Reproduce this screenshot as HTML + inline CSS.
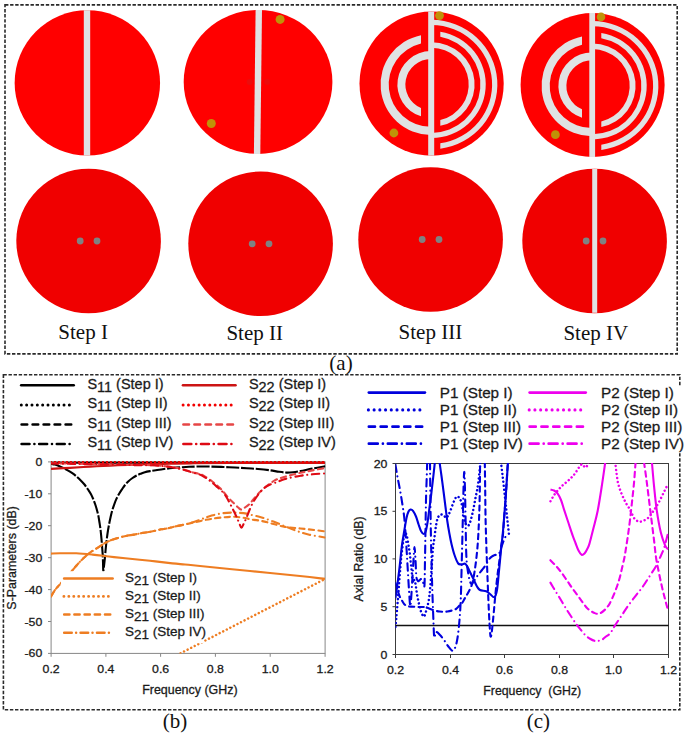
<!DOCTYPE html>
<html><head><meta charset="utf-8"><title>Figure</title>
<style>html,body{margin:0;padding:0;background:#fff;width:685px;height:736px;overflow:hidden}svg{display:block}text[font-family="Liberation Sans"]{stroke:#1a1a1a;stroke-width:0.28px}</style>
</head><body>
<svg width="685" height="736" viewBox="0 0 685 736">
<rect width="685" height="736" fill="#fff"/>
<defs><clipPath id="cb"><rect x="51" y="455" width="274.5" height="198.5"/></clipPath><clipPath id="cc"><rect x="395.5" y="463" width="273" height="191.5"/></clipPath></defs>
<circle cx="87.35" cy="82.9" r="72.7" fill="#ff0000"/>
<rect x="83.8" y="10.2" width="6.4" height="145.4" fill="#e0e2e3"/>
<ellipse cx="258.05" cy="81.9" rx="74.35" ry="72" fill="#ff0000"/>
<polygon points="255.6,9.9 262,9.9 260.3,153.9 253.9,153.9" fill="#e0e2e3"/>
<circle cx="249.6" cy="82" r="3" fill="#ec0c0c"/>
<circle cx="267.1" cy="82" r="3" fill="#ec0c0c"/>
<circle cx="280.1" cy="19.4" r="4.5" fill="#c09208"/>
<circle cx="211.3" cy="123.5" r="4.5" fill="#c09208"/>
<circle cx="431.6" cy="83.6" r="72.1" fill="#ff0000"/>
<path d="M431.7,19.7 A66.2,64.8 0 0 1 440.3,148.68 L440.3,143.33 A60.9,59.5 0 0 0 431.7,25 Z" fill="#e0e2e3"/>
<path d="M440.3,31.65 A54.5,53.6 0 0 1 431.7,138.1 L431.7,133 A49.2,48.5 0 0 0 440.3,36.84 Z" fill="#e0e2e3"/>
<path d="M431.7,42.3 A43.4,42.2 0 0 1 440.3,125.76 L440.3,120.1 A37.5,36.7 0 0 0 431.7,47.8 Z" fill="#e0e2e3"/>
<path d="M421,35.13 A50.6,50.4 0 0 0 430.7,134.9 L430.7,126.8 A42.5,42.3 0 0 1 421,43.44 Z" fill="#e0e2e3"/>
<path d="M430.7,51.1 A33.8,33.4 0 0 0 421,116.34 L421,107.92 A25.8,25.5 0 0 1 430.7,59 Z" fill="#e0e2e3"/>
<rect x="428.2" y="11.5" width="6" height="144.2" fill="#e0e2e3"/>
<circle cx="439.5" cy="15.6" r="4.4" fill="#c09208"/>
<circle cx="393.9" cy="133" r="4.4" fill="#c09208"/>
<circle cx="592.6" cy="85" r="72" fill="#ff0000"/>
<path d="M592.7,21 A66.2,64.8 0 0 1 601.3,149.98 L601.3,144.63 A60.9,59.5 0 0 0 592.7,26.3 Z" fill="#e0e2e3"/>
<path d="M601.3,32.95 A54.5,53.6 0 0 1 592.7,139.4 L592.7,134.3 A49.2,48.5 0 0 0 601.3,38.14 Z" fill="#e0e2e3"/>
<path d="M592.7,43.6 A43.4,42.2 0 0 1 601.3,127.06 L601.3,121.4 A37.5,36.7 0 0 0 592.7,49.1 Z" fill="#e0e2e3"/>
<path d="M582,36.43 A50.6,50.4 0 0 0 591.7,136.2 L591.7,128.1 A42.5,42.3 0 0 1 582,44.74 Z" fill="#e0e2e3"/>
<path d="M591.7,52.4 A33.8,33.4 0 0 0 582,117.64 L582,109.22 A25.8,25.5 0 0 1 591.7,60.3 Z" fill="#e0e2e3"/>
<rect x="589.3" y="13" width="5.8" height="144" fill="#e0e2e3"/>
<circle cx="601" cy="16.9" r="4.3" fill="#c09208"/>
<circle cx="555.4" cy="134.7" r="4.4" fill="#c09208"/>
<circle cx="88.6" cy="241" r="72.3" fill="#f00000"/>
<circle cx="260.6" cy="243.8" r="72.3" fill="#f00000"/>
<circle cx="430.6" cy="239.5" r="72.3" fill="#f00000"/>
<circle cx="594.6" cy="241" r="72.3" fill="#f00000"/>
<rect x="592.2" y="169" width="5" height="143.8" fill="#e0e2e3"/>
<circle cx="80.2" cy="241" r="3.4" fill="#7f8282"/>
<circle cx="97" cy="241" r="3.4" fill="#7f8282"/>
<circle cx="252.2" cy="243.8" r="3.4" fill="#7f8282"/>
<circle cx="269" cy="243.8" r="3.4" fill="#7f8282"/>
<circle cx="422.2" cy="239.5" r="3.4" fill="#7f8282"/>
<circle cx="439" cy="239.5" r="3.4" fill="#7f8282"/>
<circle cx="586.2" cy="241" r="3.4" fill="#7f8282"/>
<circle cx="603" cy="241" r="3.4" fill="#7f8282"/>
<text x="83.1" y="339.4" font-family="Liberation Serif" font-size="21" text-anchor="middle" fill="#111" >Step I</text>
<text x="254.7" y="340.3" font-family="Liberation Serif" font-size="21" text-anchor="middle" fill="#111" >Step II</text>
<text x="430.4" y="338.6" font-family="Liberation Serif" font-size="21" text-anchor="middle" fill="#111" >Step III</text>
<text x="595.8" y="340.4" font-family="Liberation Serif" font-size="21" text-anchor="middle" fill="#111" >Step IV</text>
<text x="341" y="369.8" font-family="Liberation Serif" font-size="21" text-anchor="middle" fill="#111" >(a)</text>
<text x="175.1" y="728" font-family="Liberation Serif" font-size="21" text-anchor="middle" fill="#111" >(b)</text>
<text x="538.3" y="727.8" font-family="Liberation Serif" font-size="21" text-anchor="middle" fill="#111" >(c)</text>
<rect x="5" y="4.9" width="672.2" height="349" fill="none" stroke="#2a2a2a" stroke-width="1.6" stroke-dasharray="3.4 1.7"/>
<rect x="3.4" y="374.8" width="676.4" height="335" fill="none" stroke="#2a2a2a" stroke-width="1.6" stroke-dasharray="3.4 1.7"/>
<rect x="676" y="386" width="9" height="66" fill="#fff"/>
<rect x="51.1" y="461.9" width="274" height="191.5" fill="none" stroke="#878787" stroke-width="1"/>
<line x1="48" y1="461.9" x2="51.1" y2="461.9" stroke="#878787" stroke-width="1"/>
<text transform="translate(42.3,465.9) scale(1.1,1)" font-family="Liberation Sans" font-size="11.2" text-anchor="end" fill="#1a1a1a">0</text>
<line x1="48" y1="493.8" x2="51.1" y2="493.8" stroke="#878787" stroke-width="1"/>
<text transform="translate(42.3,497.8) scale(1.1,1)" font-family="Liberation Sans" font-size="11.2" text-anchor="end" fill="#1a1a1a">-10</text>
<line x1="48" y1="525.7" x2="51.1" y2="525.7" stroke="#878787" stroke-width="1"/>
<text transform="translate(42.3,529.7) scale(1.1,1)" font-family="Liberation Sans" font-size="11.2" text-anchor="end" fill="#1a1a1a">-20</text>
<line x1="48" y1="557.7" x2="51.1" y2="557.7" stroke="#878787" stroke-width="1"/>
<text transform="translate(42.3,561.7) scale(1.1,1)" font-family="Liberation Sans" font-size="11.2" text-anchor="end" fill="#1a1a1a">-30</text>
<line x1="48" y1="589.6" x2="51.1" y2="589.6" stroke="#878787" stroke-width="1"/>
<text transform="translate(42.3,593.6) scale(1.1,1)" font-family="Liberation Sans" font-size="11.2" text-anchor="end" fill="#1a1a1a">-40</text>
<line x1="48" y1="621.5" x2="51.1" y2="621.5" stroke="#878787" stroke-width="1"/>
<text transform="translate(42.3,625.5) scale(1.1,1)" font-family="Liberation Sans" font-size="11.2" text-anchor="end" fill="#1a1a1a">-50</text>
<line x1="48" y1="653.4" x2="51.1" y2="653.4" stroke="#878787" stroke-width="1"/>
<text transform="translate(42.3,657.4) scale(1.1,1)" font-family="Liberation Sans" font-size="11.2" text-anchor="end" fill="#1a1a1a">-60</text>
<line x1="51.1" y1="653.4" x2="51.1" y2="656.8" stroke="#878787" stroke-width="1"/>
<text transform="translate(51.1,673.2) scale(1.1,1)" font-family="Liberation Sans" font-size="11.2" text-anchor="middle" fill="#1a1a1a">0.2</text>
<line x1="105.9" y1="653.4" x2="105.9" y2="656.8" stroke="#878787" stroke-width="1"/>
<text transform="translate(105.9,673.2) scale(1.1,1)" font-family="Liberation Sans" font-size="11.2" text-anchor="middle" fill="#1a1a1a">0.4</text>
<line x1="160.6" y1="653.4" x2="160.6" y2="656.8" stroke="#878787" stroke-width="1"/>
<text transform="translate(160.6,673.2) scale(1.1,1)" font-family="Liberation Sans" font-size="11.2" text-anchor="middle" fill="#1a1a1a">0.6</text>
<line x1="215.4" y1="653.4" x2="215.4" y2="656.8" stroke="#878787" stroke-width="1"/>
<text transform="translate(215.4,673.2) scale(1.1,1)" font-family="Liberation Sans" font-size="11.2" text-anchor="middle" fill="#1a1a1a">0.8</text>
<line x1="270.2" y1="653.4" x2="270.2" y2="656.8" stroke="#878787" stroke-width="1"/>
<text transform="translate(270.2,673.2) scale(1.1,1)" font-family="Liberation Sans" font-size="11.2" text-anchor="middle" fill="#1a1a1a">1.0</text>
<line x1="325.1" y1="653.4" x2="325.1" y2="656.8" stroke="#878787" stroke-width="1"/>
<text transform="translate(325.1,673.2) scale(1.1,1)" font-family="Liberation Sans" font-size="11.2" text-anchor="middle" fill="#1a1a1a">1.2</text>
<text transform="translate(189.9,694.2) scale(1.037,1)" font-family="Liberation Sans" font-size="12" text-anchor="middle" fill="#1a1a1a">Frequency (GHz)</text>
<text transform="translate(16.2,557.9) rotate(-90) scale(1.036,1)" font-family="Liberation Sans" font-size="12" text-anchor="middle" fill="#1a1a1a">S-Parameters (dB)</text>
<path d="M51,462.8 L325,462.8" fill="none" stroke="#000000" stroke-width="2"  stroke-linejoin="round" clip-path="url(#cb)"/>
<path d="M51,462.5 L325,462.5" fill="none" stroke="#000000" stroke-width="2.4" stroke-dasharray="0.01 3.99" stroke-linecap="round" stroke-linejoin="round" clip-path="url(#cb)"/>
<path d="M51.1,463.7 C51.75,463.85 53.52,464.13 55,464.6 C56.48,465.07 58.5,465.87 60,466.5 C61.5,467.13 62.63,467.72 64,468.4 C65.37,469.08 66.82,469.8 68.2,470.6 C69.58,471.4 70.95,472.25 72.3,473.2 C73.65,474.15 74.93,475.13 76.3,476.3 C77.67,477.47 79.13,478.83 80.5,480.2 C81.87,481.57 83.25,482.95 84.5,484.5 C85.75,486.05 86.92,487.88 88,489.5 C89.08,491.12 90.13,492.62 91,494.2 C91.87,495.78 92.52,497.37 93.2,499 C93.88,500.63 94.5,502.25 95.1,504 C95.7,505.75 96.27,507.6 96.8,509.5 C97.33,511.4 97.87,513.32 98.3,515.4 C98.73,517.48 99.05,519.82 99.4,522 C99.75,524.18 100.12,526.33 100.4,528.5 C100.68,530.67 100.88,532.83 101.1,535 C101.32,537.17 101.52,539.33 101.7,541.5 C101.88,543.67 102.03,545.82 102.2,548 C102.37,550.18 102.57,552.27 102.7,554.6 C102.83,556.93 102.9,559.28 103,562 C103.1,564.72 103.13,570.23 103.3,570.9 C103.47,571.57 103.75,567.98 104,566 C104.25,564.02 104.53,561.67 104.8,559 C105.07,556.33 105.32,552.92 105.6,550 C105.88,547.08 106.17,544.33 106.5,541.5 C106.83,538.67 107.2,535.72 107.6,533 C108,530.28 108.42,527.78 108.9,525.2 C109.38,522.62 109.95,519.95 110.5,517.5 C111.05,515.05 111.58,512.67 112.2,510.5 C112.82,508.33 113.52,506.4 114.2,504.5 C114.88,502.6 115.5,500.85 116.3,499.1 C117.1,497.35 118.05,495.63 119,494 C119.95,492.37 121,490.8 122,489.3 C123,487.8 123.92,486.35 125,485 C126.08,483.65 127.25,482.37 128.5,481.2 C129.75,480.03 131.15,478.95 132.5,478 C133.85,477.05 135.23,476.22 136.6,475.5 C137.97,474.78 139.33,474.25 140.7,473.7 C142.07,473.15 143.25,472.63 144.8,472.2 C146.35,471.77 148.17,471.43 150,471.1 C151.83,470.77 153.47,470.55 155.8,470.2 C158.13,469.85 161.23,469.37 164,469 C166.77,468.63 169.57,468.28 172.4,468 C175.23,467.72 178.23,467.5 181,467.3 C183.77,467.1 185.83,466.93 189,466.8 C192.17,466.67 196.22,466.53 200,466.5 C203.78,466.47 207.8,466.52 211.7,466.6 C215.6,466.68 219.52,466.85 223.4,467 C227.28,467.15 231.12,467.3 235,467.5 C238.88,467.7 242.87,467.95 246.7,468.2 C250.53,468.45 254.12,468.65 258,469 C261.88,469.35 266.5,469.83 270,470.3 C273.5,470.77 276.23,471.42 279,471.8 C281.77,472.18 284.27,472.53 286.6,472.6 C288.93,472.67 290.68,472.47 293,472.2 C295.32,471.93 297.28,471.6 300.5,471 C303.72,470.4 308.17,469.38 312.3,468.6 C316.43,467.82 323.13,466.68 325.3,466.3" fill="none" stroke="#000" stroke-width="2.1" stroke-dasharray="13 1.8" clip-path="url(#cb)"/>
<path d="M51,553.6 C52.5,553.55 55.78,553.35 60,553.3 C64.22,553.25 70.87,553.08 76.3,553.3 C81.73,553.52 87.17,554.07 92.6,554.6 C98.03,555.13 103.47,555.88 108.9,556.5 C114.33,557.12 118.35,557.58 125.2,558.3 C132.05,559.02 142.13,559.95 150,560.8 C157.87,561.65 166.57,562.78 172.4,563.4 C178.23,564.02 180.4,564.07 185,564.5 C189.6,564.93 189.17,564.92 200,566 C210.83,567.08 233.33,569.33 250,571 C266.67,572.67 287.5,574.68 300,576 C312.5,577.32 320.83,578.42 325,578.9" fill="none" stroke="#ee7d22" stroke-width="2.1"  stroke-linejoin="round" clip-path="url(#cb)"/>
<path d="M180.5,653.3 L325,579" fill="none" stroke="#ee7d22" stroke-width="2.5" stroke-dasharray="0.01 3.99" stroke-linecap="round" stroke-linejoin="round" clip-path="url(#cb)"/>
<path d="M51,596.5 C51.67,595.42 53.47,592.08 55,590 C56.53,587.92 58.37,586.1 60.2,584 C62.03,581.9 64.02,579.62 66,577.4 C67.98,575.18 70.27,572.77 72.1,570.7 C73.93,568.63 75.32,566.88 77,565 C78.68,563.12 80.42,561.15 82.2,559.4 C83.98,557.65 86.17,555.78 87.7,554.5 C89.23,553.22 90.27,552.52 91.4,551.7 C92.53,550.88 92.97,550.57 94.5,549.6 C96.03,548.63 98.85,547 100.6,545.9 C102.35,544.8 103.05,544.03 105,543 C106.95,541.97 109.87,540.62 112.3,539.7 C114.73,538.78 117.17,538.17 119.6,537.5 C122.03,536.83 124.47,536.18 126.9,535.7 C129.33,535.22 131.77,535.03 134.2,534.6 C136.63,534.17 139.07,533.53 141.5,533.1 C143.93,532.67 146.55,532.38 148.8,532 C151.05,531.62 152.97,531.25 155,530.8 C157.03,530.35 158.92,529.7 161,529.3 C163.08,528.9 164.95,528.92 167.5,528.4 C170.05,527.88 173.38,526.87 176.3,526.2 C179.22,525.53 182.08,525.02 185,524.4 C187.92,523.78 190.88,523.15 193.8,522.5 C196.72,521.85 199.52,521.12 202.5,520.5 C205.48,519.88 208.22,519.33 211.7,518.8 C215.18,518.27 219.52,517.63 223.4,517.3 C227.28,516.97 231.12,516.63 235,516.8 C238.88,516.97 244.2,517.88 246.7,518.3 C249.2,518.72 247.5,518.85 250,519.3 C252.5,519.75 257.8,520.22 261.7,521 C265.6,521.78 269.52,523.02 273.4,524 C277.28,524.98 281.12,526.22 285,526.9 C288.88,527.58 292.8,527.7 296.7,528.1 C300.6,528.5 303.72,528.77 308.4,529.3 C313.08,529.83 322.07,530.97 324.8,531.3" fill="none" stroke="#ee7d22" stroke-width="2.1" stroke-dasharray="5.2 4.3" stroke-linecap="round" stroke-linejoin="round" clip-path="url(#cb)"/>
<path d="M51,596.5 C51.67,595.42 53.47,592.08 55,590 C56.53,587.92 58.37,586.1 60.2,584 C62.03,581.9 64.02,579.62 66,577.4 C67.98,575.18 70.27,572.77 72.1,570.7 C73.93,568.63 75.32,566.88 77,565 C78.68,563.12 80.42,561.15 82.2,559.4 C83.98,557.65 86.17,555.78 87.7,554.5 C89.23,553.22 90.27,552.52 91.4,551.7 C92.53,550.88 92.97,550.57 94.5,549.6 C96.03,548.63 98.85,547 100.6,545.9 C102.35,544.8 103.05,544.03 105,543 C106.95,541.97 109.87,540.62 112.3,539.7 C114.73,538.78 117.17,538.17 119.6,537.5 C122.03,536.83 124.47,536.18 126.9,535.7 C129.33,535.22 131.77,535.03 134.2,534.6 C136.63,534.17 139.07,533.53 141.5,533.1 C143.93,532.67 146.55,532.38 148.8,532 C151.05,531.62 152.97,531.25 155,530.8 C157.03,530.35 158.92,529.7 161,529.3 C163.08,528.9 164.95,528.92 167.5,528.4 C170.05,527.88 173.38,526.87 176.3,526.2 C179.22,525.53 182.08,525.1 185,524.4 C187.92,523.7 190.88,522.93 193.8,522 C196.72,521.07 199.52,519.87 202.5,518.8 C205.48,517.73 208.22,516.55 211.7,515.6 C215.18,514.65 219.52,513.6 223.4,513.1 C227.28,512.6 231.12,512.52 235,512.6 C238.88,512.68 244.2,513.27 246.7,513.6 C249.2,513.93 247.5,513.95 250,514.6 C252.5,515.25 257.8,516.33 261.7,517.5 C265.6,518.67 269.52,520.13 273.4,521.6 C277.28,523.07 281.12,524.75 285,526.3 C288.88,527.85 292.8,529.53 296.7,530.9 C300.6,532.27 303.72,533.4 308.4,534.5 C313.08,535.6 322.07,537 324.8,537.5" fill="none" stroke="#ee7d22" stroke-width="2.1" stroke-dasharray="7.4 4.6 0.01 4.6" stroke-linecap="round" stroke-linejoin="round" clip-path="url(#cb)"/>
<path d="M51,468.8 C54.17,468.63 63.5,468.17 70,467.8 C76.5,467.43 83.33,466.97 90,466.6 C96.67,466.23 103.67,465.88 110,465.6 C116.33,465.32 121.33,465.13 128,464.9 C134.67,464.67 143,464.4 150,464.2 C157,464 163.33,463.85 170,463.7 C176.67,463.55 180,463.42 190,463.3 C200,463.18 207.5,463.08 230,463 C252.5,462.92 309.17,462.83 325,462.8" fill="none" stroke="#cc1414" stroke-width="2.2"  stroke-linejoin="round" clip-path="url(#cb)"/>
<path d="M51,462.2 L325,462.2" fill="none" stroke="#f20000" stroke-width="2.6" stroke-dasharray="0.01 3.99" stroke-linecap="round" stroke-linejoin="round" clip-path="url(#cb)"/>
<path d="M51,463.2 C55.83,463.3 70.17,463.6 80,463.8 C89.83,464 100,464.2 110,464.4 C120,464.6 132.45,464.87 140,465 C147.55,465.13 151.05,465 155.3,465.2 C159.55,465.4 162.08,465.77 165.5,466.2 C168.92,466.63 172.38,467.12 175.8,467.8 C179.22,468.48 183.13,469.52 186,470.3 C188.87,471.08 190.67,471.88 193,472.5 C195.33,473.12 197.83,473.22 200,474 C202.17,474.78 204.05,476.03 206,477.2 C207.95,478.37 210.03,479.78 211.7,481 C213.37,482.22 214.63,483.33 216,484.5 C217.37,485.67 218.57,486.67 219.9,488 C221.23,489.33 222.65,490.93 224,492.5 C225.35,494.07 226.75,495.98 228,497.4 C229.25,498.82 230.33,499.83 231.5,501 C232.67,502.17 233.83,503.27 235,504.4 C236.17,505.53 237.42,506.93 238.5,507.8 C239.58,508.67 240.42,509.65 241.5,509.6 C242.58,509.55 243.75,508.37 245,507.5 C246.25,506.63 247.75,505.57 249,504.4 C250.25,503.23 251.33,501.87 252.5,500.5 C253.67,499.13 254.67,497.7 256,496.2 C257.33,494.7 258.93,493.05 260.5,491.5 C262.07,489.95 263.82,488.23 265.4,486.9 C266.98,485.57 268.45,484.58 270,483.5 C271.55,482.42 273.03,481.28 274.7,480.4 C276.37,479.52 277.68,478.98 280,478.2 C282.32,477.42 285.18,476.6 288.6,475.7 C292.02,474.8 296.55,473.68 300.5,472.8 C304.45,471.92 308.17,471.2 312.3,470.4 C316.43,469.6 323.13,468.4 325.3,468" fill="none" stroke="#e64646" stroke-width="2.1" stroke-dasharray="5.2 4.3" stroke-linecap="round" stroke-linejoin="round" clip-path="url(#cb)"/>
<path d="M51,463.5 C55.83,463.58 70.17,463.82 80,464 C89.83,464.18 100,464.4 110,464.6 C120,464.8 132.45,465.07 140,465.2 C147.55,465.33 151.05,465.2 155.3,465.4 C159.55,465.6 162.08,465.97 165.5,466.4 C168.92,466.83 172.38,467.32 175.8,468 C179.22,468.68 183.13,469.72 186,470.5 C188.87,471.28 190.67,472.02 193,472.7 C195.33,473.38 197.83,473.72 200,474.6 C202.17,475.48 204.05,476.73 206,478 C207.95,479.27 209.78,480.65 211.7,482.2 C213.62,483.75 215.55,485.55 217.5,487.3 C219.45,489.05 221.82,490.92 223.4,492.7 C224.98,494.48 225.83,496.05 227,498 C228.17,499.95 229.32,502.32 230.4,504.4 C231.48,506.48 232.53,508.55 233.5,510.5 C234.47,512.45 235.28,514.1 236.2,516.1 C237.12,518.1 238.12,520.57 239,522.5 C239.88,524.43 240.67,527.62 241.5,527.7 C242.33,527.78 243.13,524.75 244,523 C244.87,521.25 245.78,519.37 246.7,517.2 C247.62,515.03 248.52,512.33 249.5,510 C250.48,507.67 251.43,505.37 252.6,503.2 C253.77,501.03 255.15,498.95 256.5,497 C257.85,495.05 259.28,493.08 260.7,491.5 C262.12,489.92 263.43,488.67 265,487.5 C266.57,486.33 268.13,485.38 270.1,484.5 C272.07,483.62 274.82,482.95 276.8,482.2 C278.78,481.45 280.03,480.68 282,480 C283.97,479.32 285.52,478.82 288.6,478.1 C291.68,477.38 296.55,476.33 300.5,475.7 C304.45,475.07 308.17,474.68 312.3,474.3 C316.43,473.92 323.13,473.55 325.3,473.4" fill="none" stroke="#de0a14" stroke-width="2.1" stroke-dasharray="7.4 4.6 0.01 4.6" stroke-linecap="round" stroke-linejoin="round" clip-path="url(#cb)"/>
<line x1="21.2" y1="385.3" x2="73.7" y2="385.3" stroke="#000000" stroke-width="2.6" stroke-linecap="round"/>
<line x1="183" y1="385.3" x2="235.5" y2="385.3" stroke="#cc1414" stroke-width="2.6" stroke-linecap="round"/>
<text transform="translate(87.4,388.7) scale(1.035,1)" font-family="Liberation Sans" font-size="14" fill="#1a1a1a">S<tspan dy="3">11</tspan><tspan dy="-3"> (Step I)</tspan></text>
<text transform="translate(248.9,388.7) scale(1.035,1)" font-family="Liberation Sans" font-size="14" fill="#1a1a1a">S<tspan dy="3">22</tspan><tspan dy="-3"> (Step I)</tspan></text>
<line x1="21.3" y1="404.9" x2="69.42" y2="404.9" stroke="#000000" stroke-width="3.0" stroke-linecap="round" stroke-dasharray="0.01 5.33"/>
<line x1="183.1" y1="404.9" x2="231.23" y2="404.9" stroke="#f20000" stroke-width="3.0" stroke-linecap="round" stroke-dasharray="0.01 5.33"/>
<text transform="translate(87.4,408.3) scale(1.035,1)" font-family="Liberation Sans" font-size="14" fill="#1a1a1a">S<tspan dy="3">11</tspan><tspan dy="-3"> (Step II)</tspan></text>
<text transform="translate(248.9,408.3) scale(1.035,1)" font-family="Liberation Sans" font-size="14" fill="#1a1a1a">S<tspan dy="3">22</tspan><tspan dy="-3"> (Step II)</tspan></text>
<line x1="21.6" y1="424.5" x2="71.2" y2="424.5" stroke="#000000" stroke-width="2.6" stroke-linecap="round" stroke-dasharray="5.6 5.4"/>
<line x1="183.4" y1="424.5" x2="233" y2="424.5" stroke="#e64646" stroke-width="2.6" stroke-linecap="round" stroke-dasharray="5.6 5.4"/>
<text transform="translate(87.4,427.9) scale(1.035,1)" font-family="Liberation Sans" font-size="14" fill="#1a1a1a">S<tspan dy="3">11</tspan><tspan dy="-3"> (Step III)</tspan></text>
<text transform="translate(248.9,427.9) scale(1.035,1)" font-family="Liberation Sans" font-size="14" fill="#1a1a1a">S<tspan dy="3">22</tspan><tspan dy="-3"> (Step III)</tspan></text>
<line x1="21.6" y1="444" x2="69.62" y2="444" stroke="#000000" stroke-width="2.6" stroke-linecap="round" stroke-dasharray="7.9 4.9 0.01 4.79"/>
<line x1="183.4" y1="444" x2="231.42" y2="444" stroke="#de0a14" stroke-width="2.6" stroke-linecap="round" stroke-dasharray="7.9 4.9 0.01 4.79"/>
<text transform="translate(87.4,447.4) scale(1.035,1)" font-family="Liberation Sans" font-size="14" fill="#1a1a1a">S<tspan dy="3">11</tspan><tspan dy="-3"> (Step IV)</tspan></text>
<text transform="translate(248.9,447.4) scale(1.035,1)" font-family="Liberation Sans" font-size="14" fill="#1a1a1a">S<tspan dy="3">22</tspan><tspan dy="-3"> (Step IV)</tspan></text>
<rect x="61" y="571.2" width="142.5" height="72" fill="#fff"/>
<line x1="64.15" y1="578.4" x2="112.65" y2="578.4" stroke="#ee7d22" stroke-width="2.5" stroke-linecap="round"/>
<text transform="translate(125,581.6) scale(1.0,1)" font-family="Liberation Sans" font-size="13.5" fill="#1a1a1a">S<tspan dy="3">21</tspan><tspan dy="-3"> (Step I)</tspan></text>
<line x1="63.9" y1="596.4" x2="108.38" y2="596.4" stroke="#ee7d22" stroke-width="2.9" stroke-linecap="round" stroke-dasharray="0.01 4.93"/>
<text transform="translate(125,599.6) scale(1.0,1)" font-family="Liberation Sans" font-size="13.5" fill="#1a1a1a">S<tspan dy="3">21</tspan><tspan dy="-3"> (Step II)</tspan></text>
<line x1="64.15" y1="614.5" x2="110.25" y2="614.5" stroke="#ee7d22" stroke-width="2.5" stroke-linecap="round" stroke-dasharray="5.3 4.9"/>
<text transform="translate(125,617.7) scale(1.0,1)" font-family="Liberation Sans" font-size="13.5" fill="#1a1a1a">S<tspan dy="3">21</tspan><tspan dy="-3"> (Step III)</tspan></text>
<line x1="64.15" y1="632.7" x2="108.92" y2="632.7" stroke="#ee7d22" stroke-width="2.5" stroke-linecap="round" stroke-dasharray="7.6 4.35 0.01 4.44"/>
<text transform="translate(125,635.9) scale(1.0,1)" font-family="Liberation Sans" font-size="13.5" fill="#1a1a1a">S<tspan dy="3">21</tspan><tspan dy="-3"> (Step IV)</tspan></text>
<rect x="395.5" y="463.5" width="273" height="191" fill="none" stroke="#3c3c3c" stroke-width="1"/>
<line x1="392.5" y1="654.5" x2="395.5" y2="654.5" stroke="#3c3c3c" stroke-width="1"/>
<text transform="translate(387.4,658.5) scale(1.1,1)" font-family="Liberation Sans" font-size="11.2" text-anchor="end" fill="#1a1a1a">0</text>
<line x1="392.5" y1="606.7" x2="395.5" y2="606.7" stroke="#3c3c3c" stroke-width="1"/>
<text transform="translate(387.4,610.7) scale(1.1,1)" font-family="Liberation Sans" font-size="11.2" text-anchor="end" fill="#1a1a1a">5</text>
<line x1="392.5" y1="558.9" x2="395.5" y2="558.9" stroke="#3c3c3c" stroke-width="1"/>
<text transform="translate(387.4,562.9) scale(1.1,1)" font-family="Liberation Sans" font-size="11.2" text-anchor="end" fill="#1a1a1a">10</text>
<line x1="392.5" y1="511.3" x2="395.5" y2="511.3" stroke="#3c3c3c" stroke-width="1"/>
<text transform="translate(387.4,515.3) scale(1.1,1)" font-family="Liberation Sans" font-size="11.2" text-anchor="end" fill="#1a1a1a">15</text>
<line x1="392.5" y1="463.5" x2="395.5" y2="463.5" stroke="#3c3c3c" stroke-width="1"/>
<text transform="translate(387.4,467.5) scale(1.1,1)" font-family="Liberation Sans" font-size="11.2" text-anchor="end" fill="#1a1a1a">20</text>
<line x1="395.5" y1="654.5" x2="395.5" y2="658" stroke="#3c3c3c" stroke-width="1"/>
<text transform="translate(395.5,674.3) scale(1.1,1)" font-family="Liberation Sans" font-size="11.2" text-anchor="middle" fill="#1a1a1a">0.2</text>
<line x1="450.5" y1="654.5" x2="450.5" y2="658" stroke="#3c3c3c" stroke-width="1"/>
<text transform="translate(450.5,674.3) scale(1.1,1)" font-family="Liberation Sans" font-size="11.2" text-anchor="middle" fill="#1a1a1a">0.4</text>
<line x1="504.5" y1="654.5" x2="504.5" y2="658" stroke="#3c3c3c" stroke-width="1"/>
<text transform="translate(504.5,674.3) scale(1.1,1)" font-family="Liberation Sans" font-size="11.2" text-anchor="middle" fill="#1a1a1a">0.6</text>
<line x1="559.5" y1="654.5" x2="559.5" y2="658" stroke="#3c3c3c" stroke-width="1"/>
<text transform="translate(559.5,674.3) scale(1.1,1)" font-family="Liberation Sans" font-size="11.2" text-anchor="middle" fill="#1a1a1a">0.8</text>
<line x1="613.5" y1="654.5" x2="613.5" y2="658" stroke="#3c3c3c" stroke-width="1"/>
<text transform="translate(613.5,674.3) scale(1.1,1)" font-family="Liberation Sans" font-size="11.2" text-anchor="middle" fill="#1a1a1a">1.0</text>
<line x1="668.5" y1="654.5" x2="668.5" y2="658" stroke="#3c3c3c" stroke-width="1"/>
<text transform="translate(668.5,674.3) scale(1.1,1)" font-family="Liberation Sans" font-size="11.2" text-anchor="middle" fill="#1a1a1a">1.2</text>
<text transform="translate(532.2,695.2) scale(1.027,1)" font-family="Liberation Sans" font-size="12" text-anchor="middle" fill="#1a1a1a">Frequency&#160;&#160;(GHz)</text>
<text transform="translate(363.2,559) rotate(-90) scale(1.02,1)" font-family="Liberation Sans" font-size="12" text-anchor="middle" fill="#1a1a1a">Axial Ratio (dB)</text>
<line x1="395.5" y1="625.5" x2="668.5" y2="625.5" stroke="#111" stroke-width="1.6"/>
<path d="M395.5,598 C396.08,593.67 397.92,580.83 399,572 C400.08,563.17 401.1,552 402,545 C402.9,538 403.65,534.5 404.4,530 C405.15,525.5 405.82,521.08 406.5,518 C407.18,514.92 407.82,512.92 408.5,511.5 C409.18,510.08 409.85,509.62 410.6,509.5 C411.35,509.38 412.1,509.63 413,510.8 C413.9,511.97 415.07,514.22 416,516.5 C416.93,518.78 417.77,522.08 418.6,524.5 C419.43,526.92 420.17,529.42 421,531 C421.83,532.58 422.8,534 423.6,534 C424.4,534 425.13,533 425.8,531 C426.47,529 427.05,525.4 427.6,522 C428.15,518.6 428.55,514.77 429.1,510.6 C429.65,506.43 430.28,501.93 430.9,497 C431.52,492.07 432.13,486.83 432.8,481 C433.47,475.17 434.55,465.17 434.9,462" fill="none" stroke="#0000dd" stroke-width="2.1"  stroke-linejoin="round" clip-path="url(#cc)"/>
<path d="M439.5,462 C439.83,464.33 440.82,471 441.5,476 C442.18,481 442.93,486.83 443.6,492 C444.27,497.17 444.88,502.17 445.5,507 C446.12,511.83 446.67,516.67 447.3,521 C447.93,525.33 448.6,529.17 449.3,533 C450,536.83 450.63,540.33 451.5,544 C452.37,547.67 453.38,551.75 454.5,555 C455.62,558.25 456.95,561.97 458.2,563.5 C459.45,565.03 460.78,564.12 462,564.2 C463.22,564.28 464.33,563.03 465.5,564 C466.67,564.97 467.68,567.5 469,570 C470.32,572.5 472.07,576.25 473.4,579 C474.73,581.75 475.9,584.67 477,586.5 C478.1,588.33 478.47,589.2 480,590 C481.53,590.8 484.53,590.63 486.2,591.3 C487.87,591.97 488.63,593.02 490,594 C491.37,594.98 493.23,597.87 494.4,597.2 C495.57,596.53 496.23,594.38 497,590 C497.77,585.62 498.33,577.57 499,570.9 C499.67,564.23 500.32,556.82 501,550 C501.68,543.18 502.35,538.33 503.1,530 C503.85,521.67 504.68,511.33 505.5,500 C506.32,488.67 507.58,468.33 508,462" fill="none" stroke="#0000dd" stroke-width="2.1"  stroke-linejoin="round" clip-path="url(#cc)"/>
<path d="M395.5,627 C395.75,624.17 396.42,617 397,610 C397.58,603 398.33,593.33 399,585 C399.67,576.67 400.4,566.5 401,560 C401.6,553.5 402.1,550 402.6,546 C403.1,542 403.55,538.17 404,536 C404.45,533.83 404.83,533 405.3,533 C405.77,533 406.3,534.17 406.8,536 C407.3,537.83 407.82,541.17 408.3,544 C408.78,546.83 409.22,549.33 409.7,553 C410.18,556.67 410.67,561.17 411.2,566 C411.73,570.83 412.38,579.67 412.9,582 C413.42,584.33 413.87,579.67 414.3,580 C414.73,580.33 415.05,581.67 415.5,584 C415.95,586.33 416.42,590.67 417,594 C417.58,597.33 418.37,601.17 419,604 C419.63,606.83 420.22,609.17 420.8,611 C421.38,612.83 422,614.07 422.5,615 C423,615.93 423.33,616.77 423.8,616.6 C424.27,616.43 424.8,615.43 425.3,614 C425.8,612.57 426.27,610.05 426.8,608 C427.33,605.95 427.97,604.7 428.5,601.7 C429.03,598.7 429.5,595.28 430,590 C430.5,584.72 431,577 431.5,570 C432,563 432.52,553.33 433,548 C433.48,542.67 433.93,541.5 434.4,538 C434.87,534.5 435.3,530.17 435.8,527 C436.3,523.83 436.75,521 437.4,519 C438.05,517 438.95,515.73 439.7,515 C440.45,514.27 441.18,514.5 441.9,514.6 C442.62,514.7 443.3,515.05 444,515.6 C444.7,516.15 445.4,517.92 446.1,517.9 C446.8,517.88 447.55,516.53 448.2,515.5 C448.85,514.47 449.28,513.45 450,511.7 C450.72,509.95 451.67,507.12 452.5,505 C453.33,502.88 454.25,500.42 455,499 C455.75,497.58 456.33,496.75 457,496.5 C457.67,496.25 458.3,496.58 459,497.5 C459.7,498.42 460.5,499.58 461.2,502 C461.9,504.42 462.53,508.58 463.2,512 C463.87,515.42 464.57,520.25 465.2,522.5 C465.83,524.75 466.42,525.05 467,525.5 C467.58,525.95 468.12,525.95 468.7,525.2 C469.28,524.45 469.78,523.37 470.5,521 C471.22,518.63 472.17,514.83 473,511 C473.83,507.17 474.67,502.35 475.5,498 C476.33,493.65 477.17,490.9 478,484.9 C478.83,478.9 480.08,465.82 480.5,462" fill="none" stroke="#0000dd" stroke-width="2.5" stroke-dasharray="0.01 3.99" stroke-linecap="round" stroke-linejoin="round" clip-path="url(#cc)"/>
<path d="M500.9,462 C501.17,464.17 501.95,470.33 502.5,475 C503.05,479.67 503.65,485 504.2,490 C504.75,495 505.25,499.83 505.8,505 C506.35,510.17 506.92,515.58 507.5,521 C508.08,526.42 509,534.75 509.3,537.5" fill="none" stroke="#0000dd" stroke-width="2.5" stroke-dasharray="0.01 3.99" stroke-linecap="round" stroke-linejoin="round" clip-path="url(#cc)"/>
<path d="M395.5,583 C395.8,584 396.63,586.83 397.3,589 C397.97,591.17 398.77,594.17 399.5,596 C400.23,597.83 400.95,598.7 401.7,600 C402.45,601.3 403.28,602.88 404,603.8 C404.72,604.72 405.25,605.08 406,605.5 C406.75,605.92 407.68,606.12 408.5,606.3 C409.32,606.48 409.82,606.52 410.9,606.6 C411.98,606.68 413.48,606.73 415,606.8 C416.52,606.87 418.23,606.93 420,607 C421.77,607.07 423.77,606.82 425.6,607.2 C427.43,607.58 429.35,608.7 431,609.3 C432.65,609.9 434.05,610.43 435.5,610.8 C436.95,611.17 438.37,611.35 439.7,611.5 C441.03,611.65 442.23,611.7 443.5,611.7 C444.77,611.7 445.88,611.7 447.3,611.5 C448.72,611.3 450.55,610.92 452,610.5 C453.45,610.08 454.83,609.75 456,609 C457.17,608.25 458.05,606.9 459,606 C459.95,605.1 460.7,604.93 461.7,603.6 C462.7,602.27 463.87,599.93 465,598 C466.13,596.07 467.3,594.38 468.5,592 C469.7,589.62 471.2,587.03 472.2,583.7 C473.2,580.37 473.78,576.45 474.5,572 C475.22,567.55 475.92,562.33 476.5,557 C477.08,551.67 477.55,547 478,540 C478.45,533 478.9,523.33 479.2,515 C479.5,506.67 479.65,498.83 479.8,490 C479.95,481.17 480.05,466.67 480.1,462" fill="none" stroke="#0000dd" stroke-width="2.1" stroke-dasharray="5.2 4.3" stroke-linecap="round" stroke-linejoin="round" clip-path="url(#cc)"/>
<path d="M484.8,462 C484.87,466.67 485.07,480.33 485.2,490 C485.33,499.67 485.38,510 485.6,520 C485.82,530 486.17,540 486.5,550 C486.83,560 487.25,570.83 487.6,580 C487.95,589.17 488.27,597.5 488.6,605 C488.93,612.5 489.27,619.73 489.6,625 C489.93,630.27 490.2,635.77 490.6,636.6 C491,637.43 491.47,634.1 492,630 C492.53,625.9 493.22,618.1 493.8,612 C494.38,605.9 494.88,599.57 495.5,593.4 C496.12,587.23 496.83,580.57 497.5,575 C498.17,569.43 498.88,564.83 499.5,560 C500.12,555.17 500.65,549.95 501.2,546 C501.75,542.05 502.28,541.3 502.8,536.3 C503.32,531.3 503.78,523.05 504.3,516 C504.82,508.95 505.32,503 505.9,494 C506.48,485 507.48,467.33 507.8,462" fill="none" stroke="#0000dd" stroke-width="2.1" stroke-dasharray="5.2 4.3" stroke-linecap="round" stroke-linejoin="round" clip-path="url(#cc)"/>
<path d="M395.4,464.5 C395.75,466.58 396.73,472.75 397.5,477 C398.27,481.25 399.17,485.33 400,490 C400.83,494.67 401.77,500.17 402.5,505 C403.23,509.83 403.82,513.17 404.4,519 C404.98,524.83 405.48,532.33 406,540 C406.52,547.67 407,556.67 407.5,565 C408,573.33 408.52,583.17 409,590 C409.48,596.83 409.9,606.83 410.4,606 C410.9,605.17 411.48,592.67 412,585 C412.52,577.33 413.08,566.33 413.5,560 C413.92,553.67 414.17,547 414.5,547 C414.83,547 415.18,555 415.5,560 C415.82,565 415.98,573.5 416.4,577 C416.82,580.5 417.52,580.42 418,581 C418.48,581.58 418.8,580.83 419.3,580.5 C419.8,580.17 420.5,579.08 421,579 C421.5,578.92 421.87,579.17 422.3,580 C422.73,580.83 423.23,583.17 423.6,584 C423.97,584.83 424.27,589 424.5,585 C424.73,581 424.83,569.17 425,560 C425.17,550.83 425.33,540 425.5,530 C425.67,520 425.78,509.17 426,500 C426.22,490.83 426.6,481.33 426.8,475 C427,468.67 427.13,464.17 427.2,462" fill="none" stroke="#0000dd" stroke-width="2.1" stroke-dasharray="7.4 4.6 0.01 4.6" stroke-linecap="round" stroke-linejoin="round" clip-path="url(#cc)"/>
<path d="M430,462 C430.07,468.33 430.23,487 430.4,500 C430.57,513 430.73,526.67 431,540 C431.27,553.33 431.6,566.67 432,580 C432.4,593.33 433.02,610.4 433.4,620 C433.78,629.6 433.87,635.6 434.3,637.6 C434.73,639.6 435.05,632.43 436,632 C436.95,631.57 438.67,633.67 440,635 C441.33,636.33 442.67,638.17 444,640 C445.33,641.83 446.63,644.22 448,646 C449.37,647.78 451.03,650.37 452.2,650.7 C453.37,651.03 454.12,650.12 455,648 C455.88,645.88 456.75,642.67 457.5,638 C458.25,633.33 458.95,626.67 459.5,620 C460.05,613.33 460.42,608 460.8,598 C461.18,588 461.47,573 461.8,560 C462.13,547 462.5,532.5 462.8,520 C463.1,507.5 463.35,493 463.6,485 C463.85,477 464.07,471.17 464.3,472 C464.53,472.83 464.78,482 465,490 C465.22,498 465.38,509.17 465.6,520 C465.82,530.83 465.9,546.33 466.3,555 C466.7,563.67 467.22,567.22 468,572 C468.78,576.78 469.92,582.37 471,583.7 C472.08,585.03 473.33,581.45 474.5,580 C475.67,578.55 476.75,576.67 478,575 C479.25,573.33 480.75,571.58 482,570 C483.25,568.42 484.22,567.42 485.5,565.5 C486.78,563.58 488.28,560.2 489.7,558.5 C491.12,556.8 492.45,556.15 494,555.3 C495.55,554.45 497.53,555.45 499,553.4 C500.47,551.35 501.55,546.17 502.8,543 C504.05,539.83 505.88,535.83 506.5,534.4" fill="none" stroke="#0000dd" stroke-width="2.1" stroke-dasharray="7.4 4.6 0.01 4.6" stroke-linecap="round" stroke-linejoin="round" clip-path="url(#cc)"/>
<path d="M550.5,489.6 C551.08,489.75 552.83,489.88 554,490.5 C555.17,491.12 556.33,491.72 557.5,493.3 C558.67,494.88 559.85,497.1 561,500 C562.15,502.9 563.15,506.87 564.4,510.7 C565.65,514.53 567.12,518.85 568.5,523 C569.88,527.15 571.53,532.27 572.7,535.6 C573.87,538.93 574.53,540.52 575.5,543 C576.47,545.48 577.47,548.53 578.5,550.5 C579.53,552.47 580.7,554.3 581.7,554.8 C582.7,555.3 583.62,554.38 584.5,553.5 C585.38,552.62 586.18,551.1 587,549.5 C587.82,547.9 588.32,547.48 589.4,543.9 C590.48,540.32 592.12,533.53 593.5,528 C594.88,522.47 596.37,517.37 597.7,510.7 C599.03,504.03 600.23,496.12 601.5,488 C602.77,479.88 604.67,466.33 605.3,462" fill="none" stroke="#ee00ee" stroke-width="2.1"  stroke-linejoin="round" clip-path="url(#cc)"/>
<path d="M651.9,462 C652.25,465.95 653.18,477.6 654,485.7 C654.82,493.8 655.65,502.75 656.8,510.6 C657.95,518.45 659.52,527.02 660.9,532.8 C662.28,538.58 663.9,542.53 665.1,545.3 C666.3,548.07 667.6,548.72 668.1,549.4" fill="none" stroke="#ee00ee" stroke-width="2.1"  stroke-linejoin="round" clip-path="url(#cc)"/>
<path d="M550.5,501.2 C551.17,500.08 553.1,496.5 554.5,494.5 C555.9,492.5 557.48,490.78 558.9,489.2 C560.32,487.62 561.62,486.27 563,485 C564.38,483.73 565.87,482.77 567.2,481.6 C568.53,480.43 569.85,479.17 571,478 C572.15,476.83 573.1,475.85 574.1,474.6 C575.1,473.35 576.08,471.85 577,470.5 C577.92,469.15 578.73,467.55 579.6,466.5 C580.47,465.45 581.43,464.2 582.2,464.2 C582.97,464.2 583.58,465.95 584.2,466.5 C584.82,467.05 585.4,467.67 585.9,467.5 C586.4,467.33 586.8,466.42 587.2,465.5 C587.6,464.58 588.12,462.58 588.3,462" fill="none" stroke="#ee00ee" stroke-width="2.5" stroke-dasharray="0.01 3.99" stroke-linecap="round" stroke-linejoin="round" clip-path="url(#cc)"/>
<path d="M615.2,462 C615.42,463.83 616.03,469.52 616.5,473 C616.97,476.48 617.33,479.9 618,482.9 C618.67,485.9 619.58,488.45 620.5,491 C621.42,493.55 622.5,496.03 623.5,498.2 C624.5,500.37 625.45,502.17 626.5,504 C627.55,505.83 628.88,507.53 629.8,509.2 C630.72,510.87 631.2,512.38 632,514 C632.8,515.62 633.68,517.73 634.6,518.9 C635.52,520.07 636.57,520.53 637.5,521 C638.43,521.47 639.12,521.78 640.2,521.7 C641.28,521.62 642.62,521.18 644,520.5 C645.38,519.82 647.17,518.85 648.5,517.6 C649.83,516.35 650.85,514.62 652,513 C653.15,511.38 654.23,509.73 655.4,507.9 C656.57,506.07 657.85,504.08 659,502 C660.15,499.92 661.3,497.4 662.3,495.4 C663.3,493.4 664.07,491.85 665,490 C665.93,488.15 667.42,485.25 667.9,484.3" fill="none" stroke="#ee00ee" stroke-width="2.5" stroke-dasharray="0.01 3.99" stroke-linecap="round" stroke-linejoin="round" clip-path="url(#cc)"/>
<path d="M550.4,560.2 C551.33,561.17 554.18,563.97 556,566 C557.82,568.03 559.47,569.98 561.3,572.4 C563.13,574.82 565.18,577.88 567,580.5 C568.82,583.12 570.37,585.52 572.2,588.1 C574.03,590.68 576.18,593.52 578,596 C579.82,598.48 581.6,601 583.1,603 C584.6,605 585.65,606.63 587,608 C588.35,609.37 589.95,610.37 591.2,611.2 C592.45,612.03 593.37,612.55 594.5,613 C595.63,613.45 596.83,613.98 598,613.9 C599.17,613.82 600.37,613.18 601.5,612.5 C602.63,611.82 603.85,610.68 604.8,609.8 C605.75,608.92 606.33,608.33 607.2,607.2 C608.07,606.07 608.8,605.33 610,603 C611.2,600.67 613.15,596.2 614.4,593.2 C615.65,590.2 616.53,587.88 617.5,585 C618.47,582.12 619.37,579.07 620.2,575.9 C621.03,572.73 621.78,569.12 622.5,566 C623.22,562.88 623.92,560.2 624.5,557.2 C625.08,554.2 625.42,551.7 626,548 C626.58,544.3 627.33,539.67 628,535 C628.67,530.33 629.33,525.5 630,520 C630.67,514.5 631.33,508.17 632,502 C632.67,495.83 633.4,489.67 634,483 C634.6,476.33 635.33,465.5 635.6,462" fill="none" stroke="#ee00ee" stroke-width="2.1" stroke-dasharray="5.2 4.3" stroke-linecap="round" stroke-linejoin="round" clip-path="url(#cc)"/>
<path d="M644,462 C644.42,465 645.67,473.67 646.5,480 C647.33,486.33 648.17,493.33 649,500 C649.83,506.67 650.67,513.33 651.5,520 C652.33,526.67 653.23,533.67 654,540 C654.77,546.33 655.27,552.5 656.1,558 C656.93,563.5 658.02,568.17 659,573 C659.98,577.83 661,582.67 662,587 C663,591.33 664.05,595.32 665,599 C665.95,602.68 667.25,607.42 667.7,609.1" fill="none" stroke="#ee00ee" stroke-width="2.1" stroke-dasharray="5.2 4.3" stroke-linecap="round" stroke-linejoin="round" clip-path="url(#cc)"/>
<path d="M550.4,582.6 C551.08,583.75 553.13,587.23 554.5,589.5 C555.87,591.77 557.23,593.95 558.6,596.2 C559.97,598.45 561.33,600.73 562.7,603 C564.07,605.27 565.33,607.47 566.8,609.8 C568.27,612.13 569.92,614.62 571.5,617 C573.08,619.38 574.72,621.93 576.3,624.1 C577.88,626.27 579.42,628.07 581,630 C582.58,631.93 584.22,634.2 585.8,635.7 C587.38,637.2 588.92,638.1 590.5,639 C592.08,639.9 593.97,640.8 595.3,641.1 C596.63,641.4 597.37,641.03 598.5,640.8 C599.63,640.57 600.85,640.42 602.1,639.7 C603.35,638.98 604.68,637.52 606,636.5 C607.32,635.48 608.6,635.28 610,633.6 C611.4,631.92 612.47,629.4 614.4,626.4 C616.33,623.4 619.2,619.2 621.6,615.6 C624,612 626.4,608.17 628.8,604.8 C631.2,601.43 633.6,598.53 636,595.4 C638.4,592.27 640.92,589.23 643.2,586 C645.48,582.77 647.53,579.35 649.7,576 C651.87,572.65 654.52,568.9 656.2,565.9 C657.88,562.9 658.6,560.65 659.8,558 C661,555.35 662.37,552.83 663.4,550 C664.43,547.17 665.22,543.87 666,541 C666.78,538.13 667.75,534.17 668.1,532.8" fill="none" stroke="#ee00ee" stroke-width="2.1" stroke-dasharray="7.4 4.6 0.01 4.6" stroke-linecap="round" stroke-linejoin="round" clip-path="url(#cc)"/>
<line x1="368.85" y1="392.6" x2="424.95" y2="392.6" stroke="#0000dd" stroke-width="2.7" stroke-linecap="round"/>
<line x1="529.65" y1="392.6" x2="585.75" y2="392.6" stroke="#ee00ee" stroke-width="2.7" stroke-linecap="round"/>
<text transform="translate(439.8,397.8) scale(1.017,1)" font-family="Liberation Sans" font-size="15" fill="#1a1a1a">P1 (Step I)</text>
<text transform="translate(601,397.8) scale(1.017,1)" font-family="Liberation Sans" font-size="15" fill="#1a1a1a">P2 (Step I)</text>
<line x1="368.4" y1="409.9" x2="419.9" y2="409.9" stroke="#0000dd" stroke-width="3.1" stroke-linecap="round" stroke-dasharray="0.01 5.71"/>
<line x1="529.2" y1="409.9" x2="580.7" y2="409.9" stroke="#ee00ee" stroke-width="3.1" stroke-linecap="round" stroke-dasharray="0.01 5.71"/>
<text transform="translate(439.8,415.1) scale(1.017,1)" font-family="Liberation Sans" font-size="15" fill="#1a1a1a">P1 (Step II)</text>
<text transform="translate(601,415.1) scale(1.017,1)" font-family="Liberation Sans" font-size="15" fill="#1a1a1a">P2 (Step II)</text>
<line x1="368.85" y1="426.7" x2="422.15" y2="426.7" stroke="#0000dd" stroke-width="2.7" stroke-linecap="round" stroke-dasharray="6.1 5.7"/>
<line x1="529.65" y1="426.7" x2="582.95" y2="426.7" stroke="#ee00ee" stroke-width="2.7" stroke-linecap="round" stroke-dasharray="6.1 5.7"/>
<text transform="translate(439.8,431.9) scale(1.017,1)" font-family="Liberation Sans" font-size="15" fill="#1a1a1a">P1 (Step III)</text>
<text transform="translate(601,431.9) scale(1.017,1)" font-family="Liberation Sans" font-size="15" fill="#1a1a1a">P2 (Step III)</text>
<line x1="368.85" y1="443.7" x2="420.92" y2="443.7" stroke="#0000dd" stroke-width="2.7" stroke-linecap="round" stroke-dasharray="8.9 5.15 0.01 4.94"/>
<line x1="529.65" y1="443.7" x2="581.72" y2="443.7" stroke="#ee00ee" stroke-width="2.7" stroke-linecap="round" stroke-dasharray="8.9 5.15 0.01 4.94"/>
<text transform="translate(439.8,448.9) scale(1.017,1)" font-family="Liberation Sans" font-size="15" fill="#1a1a1a">P1 (Step IV)</text>
<text transform="translate(601,448.9) scale(1.017,1)" font-family="Liberation Sans" font-size="15" fill="#1a1a1a">P2 (Step IV)</text>
</svg>
</body></html>
